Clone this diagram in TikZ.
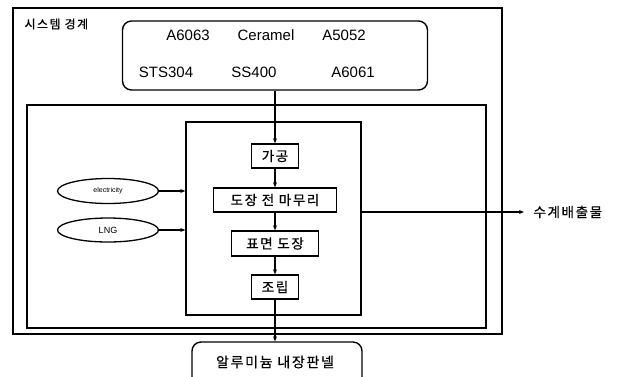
\documentclass[tikz,border=0pt]{standalone}
\usepackage{fontspec}
\setmainfont{Liberation Sans}
\newfontfamily\kr[LetterSpace=12,FakeBold=0.6]{Noto Sans CJK KR}
\usetikzlibrary{arrows.meta,shapes.geometric}
\tikzset{
  boxline/.style={draw, line width=1.4pt, inner sep=0pt},
  frame/.style={boxline, rectangle},
  rbox/.style={boxline, rectangle, rounded corners=9pt},
  pbox/.style={draw, line width=1.4pt, rectangle, inner sep=0pt, font=\kr\fontsize{13.5}{13.5}\selectfont},
  ell/.style={draw, line width=1.3pt, ellipse, inner sep=0pt},
  arr/.style={line width=1.1pt, -{Stealth[length=5pt,width=4pt]}},
  mat/.style={font=\fontsize{15}{15}\selectfont},
}
\begin{document}
\begin{tikzpicture}[x=1pt,y=-1pt]
\useasboundingbox (0,0) rectangle (620,376);
\clip (0,0) rectangle (620,376);
% frames
\node[frame, minimum width=489pt, minimum height=326pt] (outer) at (257.5,171) {};
\node[frame, minimum width=459pt, minimum height=223pt] (inner) at (256.5,216.5) {};
\node[frame, minimum width=175pt, minimum height=193pt] (proc) at (273.5,218.5) {};
\node[anchor=west, font=\kr\fontsize{12}{12}\selectfont] (sys) at (21,24) {시스템 경계};
% top materials box
\node[rbox, minimum width=305pt, minimum height=69pt] (top) at (275,55.5) {};
\node[mat] (m1) at (188,35) {A6063};
\node[mat] (m2) at (266,35) {Ceramel};
\node[mat] (m3) at (344,35) {A5052};
\node[mat] (m4) at (166,72) {STS304};
\node[mat] (m5) at (254,72) {SS400};
\node[mat] (m6) at (353,72) {A6061};
% processes
\node[pbox, minimum width=47pt, minimum height=24pt] (p1) at (275,156) {가공};
\node[pbox, minimum width=123pt, minimum height=24pt] (p2) at (275,200) {도장 전 마무리};
\node[pbox, minimum width=87pt, minimum height=25pt] (p3) at (275,243.5) {표면 도장};
\node[pbox, minimum width=47pt, minimum height=24pt] (p4) at (275,287) {조립};
% bottom product
\node[rbox, minimum width=170pt, minimum height=44pt] (prod) at (277,364) {};
\node[font=\kr\fontsize{14}{14}\selectfont] (prodtxt) at (275,362) {알루미늄 내장판넬};
% inputs
\node[ell, minimum width=101pt, minimum height=25pt, font=\fontsize{7}{7}\selectfont] (elec) at (108,191) {electricity};
\node[ell, minimum width=101pt, minimum height=24pt, font=\fontsize{9}{9}\selectfont] (lng) at (108,230) {LNG};
% output
\coordinate (outend) at (524,212);
\node[anchor=west, font=\kr\fontsize{13.5}{13.5}\selectfont] (emis) at (530,212) {수계배출물};
% connectors
\draw[arr] (top.south -| p1) -- (p1.north);
\draw[arr] (p1) -- (p2);
\draw[arr] (p2) -- (p3);
\draw[arr] (p3) -- (p4);
\draw[arr] (p4.south) -- (prod.north -| p4);
\draw[arr] (elec.east) -- (proc.west |- elec.east);
\draw[arr] (lng.east) -- (proc.west |- lng.east);
\draw[arr] (proc.east |- outend) -- (outend);
\end{tikzpicture}
\end{document}
